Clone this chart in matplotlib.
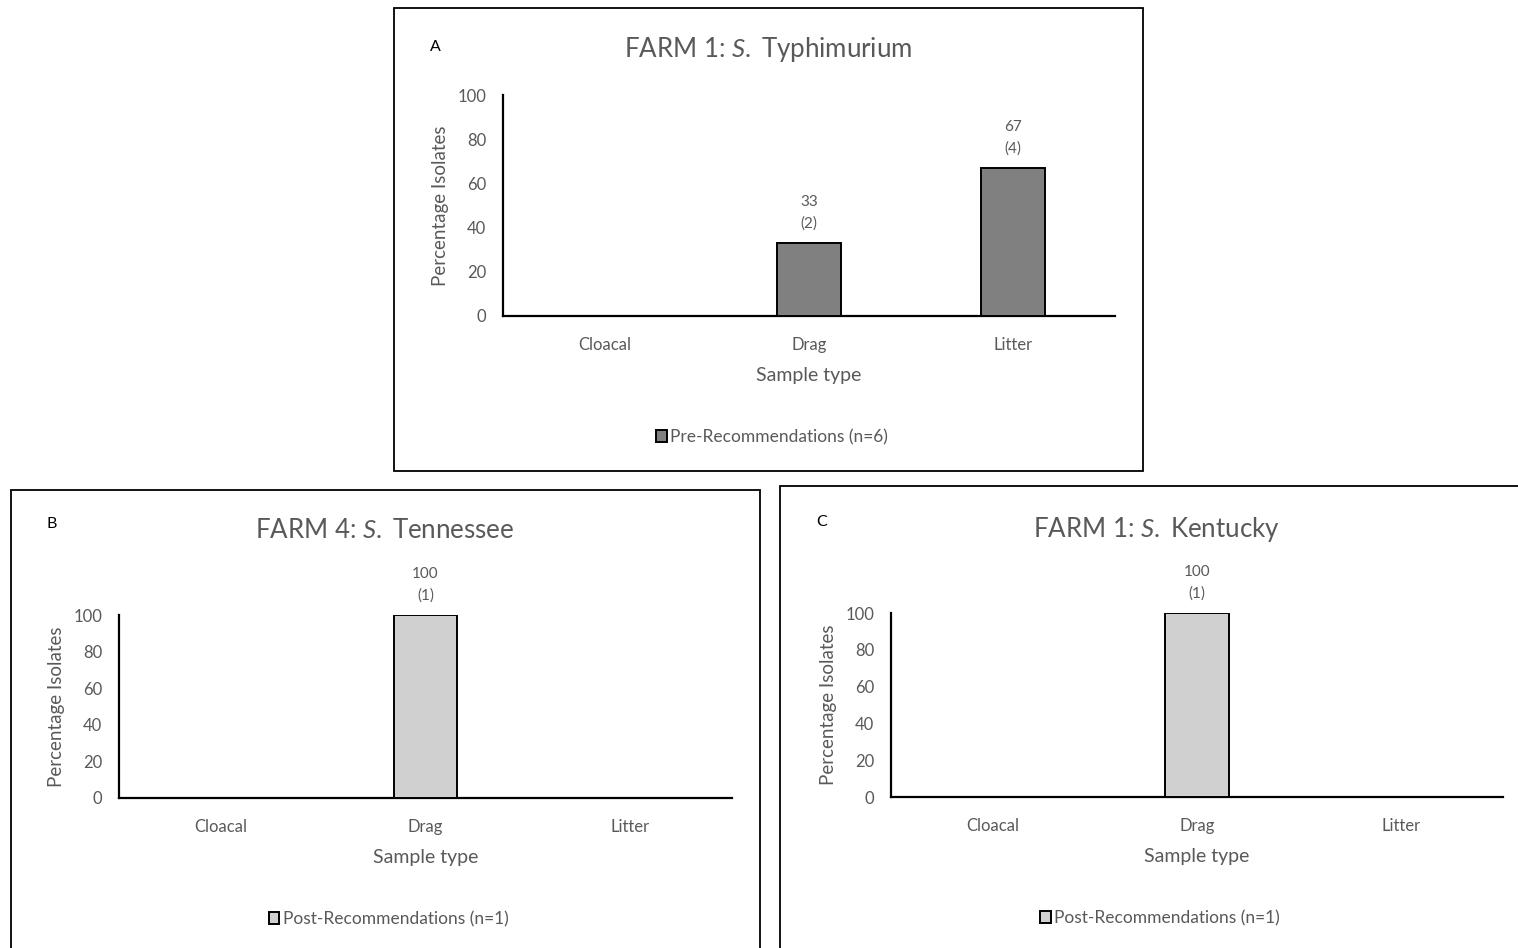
import matplotlib
matplotlib.use("Agg")
import matplotlib.pyplot as plt
from matplotlib.patches import Rectangle, Patch

plt.rcParams['font.family'] = ['Lato', 'DejaVu Sans']
plt.rcParams['mathtext.fontset'] = 'custom'
plt.rcParams['mathtext.rm'] = 'Lato'
plt.rcParams['mathtext.it'] = 'Lato:italic'

W, H = 1518, 948
categories = ["Cloacal", "Drag", "Litter"]

titles = [r"FARM 1: $\mathit{S.}$ Typhimurium",
          r"FARM 4: $\mathit{S.}$ Tennessee",
          r"FARM 1: $\mathit{S.}$ Kentucky"]
letters = ["A", "B", "C"]
values_A = [0, 33, 67]
counts_A = [0, 2, 4]
values_B = [0, 100, 0]
counts_B = [0, 1, 0]
values_C = [0, 100, 0]
counts_C = [0, 1, 0]
legend_labels = ["Pre-Recommendations (n=6)",
                 "Post-Recommendations (n=1)",
                 "Post-Recommendations (n=1)"]
bar_colors = ["#808080", "#d0d0d0", "#d0d0d0"]
yticks = [0, 20, 40, 60, 80, 100]

TXT = "#595959"

fig = plt.figure(figsize=(W / 100, H / 100), dpi=100)


def fx(x):
    return x / W


def fy(y):
    return 1 - y / H


# panel layout in pixels: frame (l, t, r, b), axes (l, t, r, b)
panels = [
    dict(frame=(394, 8, 1143, 471), axes=(503, 95, 1115, 316),
         vals=values_A, cnts=counts_A, title_y=49, letter_y=47),
    dict(frame=(11, 490, 760, 960), axes=(119, 615, 732, 798),
         vals=values_B, cnts=counts_B, title_y=531, letter_y=524),
    dict(frame=(780, 486, 1530, 960), axes=(891, 613, 1503, 797),
         vals=values_C, cnts=counts_C, title_y=529, letter_y=522),
]

for i, p in enumerate(panels):
    fl, ft, fr, fb = p["frame"]
    fig.patches.append(Rectangle((fx(fl), fy(fb)), fx(fr - fl), (fb - ft) / H,
                                 transform=fig.transFigure, fill=False,
                                 edgecolor="black", linewidth=1.3, zorder=0))
    al, at, ar, ab = p["axes"]
    ax = fig.add_axes([fx(al), fy(ab), fx(ar - al), (ab - at) / H])
    x = list(range(len(categories)))
    ax.bar(x, p["vals"], width=0.31, color=bar_colors[i],
           edgecolor="black", linewidth=1.4, zorder=3)
    for xi, v, c in zip(x, p["vals"], p["cnts"]):
        if v > 0:
            ax.annotate(f"{v}\n({c})", (xi, v), xytext=(0, 9),
                        textcoords="offset points", ha="center", va="bottom",
                        fontsize=11, color=TXT, linespacing=1.65)
    ax.set_xlim(-0.5, 2.5)
    ax.set_ylim(0, 100)
    ax.set_yticks(yticks)
    ax.set_xticks(x)
    ax.set_xticklabels(categories)
    ax.tick_params(axis="both", length=0, labelsize=12, colors=TXT)
    ax.tick_params(axis="y", pad=12)
    ax.tick_params(axis="x", pad=15)
    for s in ["top", "right"]:
        ax.spines[s].set_visible(False)
    for s in ["left", "bottom"]:
        ax.spines[s].set_linewidth(1.6)
        ax.spines[s].set_color("black")
    ax.set_ylabel("Percentage Isolates", fontsize=13.5, color=TXT, labelpad=6)
    ax.set_xlabel("Sample type", fontsize=14, color=TXT, labelpad=10)
    # title and panel letter
    fig.text(fx((al + ar) / 2 - 41), fy(p["title_y"]), titles[i], ha="center",
             va="center", fontsize=18.6, color=TXT)
    fig.text(fx(fl + 36), fy(p["letter_y"]), letters[i], ha="left",
             va="center", fontsize=11.5, color="black")
    handle = Patch(facecolor=bar_colors[i], edgecolor="black", linewidth=1.4)
    ax.legend([handle], [legend_labels[i]], loc="center",
              bbox_to_anchor=(fx((al + ar) / 2 - 37), fy(ab + 121)),
              bbox_transform=fig.transFigure, frameon=False, fontsize=12.5,
              handlelength=0.6, handleheight=0.7, handletextpad=0.2,
              labelcolor=TXT)

fig.savefig("out.png", dpi=100)
